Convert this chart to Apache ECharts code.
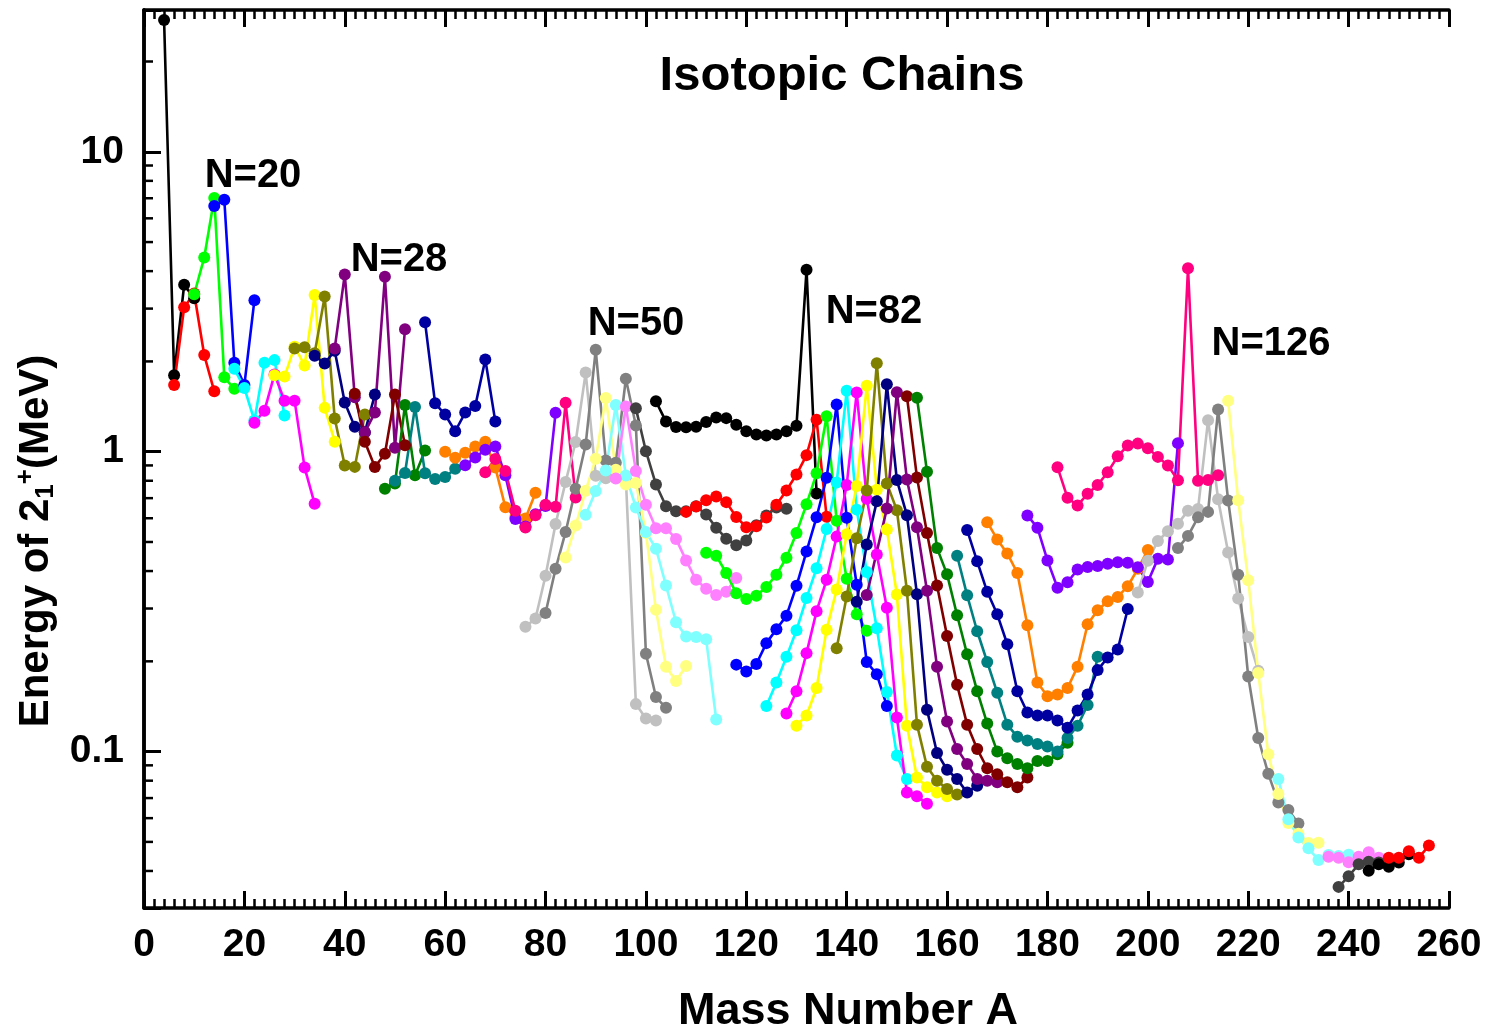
<!DOCTYPE html>
<html>
<head>
<meta charset="utf-8">
<script src="https://cdn.jsdelivr.net/npm/echarts@6/dist/echarts.min.js"></script>
<style>
html,body{margin:0;padding:0;background:#fff;}
#chart{width:1489px;height:1030px;}
</style>
</head>
<body>
<div id="chart"></div>
<script>
// ---------- data (mass number A, energy of first 2+ state in MeV) ----------
const A_He=[4,6,8,10];                 const E_He=[27.5,1.80,3.60,3.25];
const A_Be=[6,8,10,12,14];             const E_Be=[1.67,3.03,3.37,2.10,1.59];
const A_C=[10,12,14,16,18];            const E_C=[3.35,4.44,7.01,1.77,1.62];
const A_O=[14,16,18,20,22];            const E_O=[6.59,6.92,1.98,1.67,3.20];
const A_Ne=[18,20,22,24,26,28];        const E_Ne=[1.89,1.63,1.27,1.98,2.02,1.32];
const A_Mg=[22,24,26,28,30,32,34];     const E_Mg=[1.25,1.37,1.81,1.48,1.48,0.885,0.67];
const A_Si=[26,28,30,32,34,36,38];     const E_Si=[1.80,1.78,2.24,1.94,3.33,1.40,1.08];
const A_S=[30,32,34,36,38,40,42,44];   const E_S=[2.21,2.23,2.13,3.29,1.29,0.90,0.89,1.33];
const A_Ar=[34,36,38,40,42,44,46];     const E_Ar=[2.09,1.97,2.17,1.46,1.21,1.16,1.55];
const A_Ca=[38,40,42,44,46,48,50,52];  const E_Ca=[2.21,3.90,1.52,1.16,1.35,3.83,1.03,2.56];
const A_Ti=[42,44,46,48,50,52];        const E_Ti=[1.56,1.08,0.889,0.984,1.55,1.05];
const A_Cr=[48,50,52,54,56];           const E_Cr=[0.752,0.783,1.43,0.835,1.01];
const A_Fe=[50,52,54,56,58,60,62];     const E_Fe=[0.80,0.849,1.41,0.847,0.811,0.824,0.877];
const A_Ni=[56,58,60,62,64,66,68,70];  const E_Ni=[2.70,1.45,1.33,1.17,1.35,1.42,2.03,1.26];
const A_Zn=[60,62,64,66,68,70,72,74,76,78]; const E_Zn=[1.00,0.954,0.992,1.04,1.08,0.885,0.653,0.606,0.599,0.730];
const A_Ge=[64,66,68,70,72,74,76,78,80,82]; const E_Ge=[0.902,0.957,1.016,1.04,0.834,0.596,0.563,0.619,0.659,1.348];
const A_Se=[68,70,72,74,76,78,80,82,84,86]; const E_Se=[0.854,0.945,0.862,0.635,0.559,0.614,0.666,0.655,1.455,0.704];
const A_Sr=[76,78,80,82,84,86,88,90,92,94,96,98,100,102];
const E_Sr=[0.261,0.278,0.386,0.574,0.793,1.077,1.836,0.832,0.815,0.837,0.815,0.144,0.129,0.127];
const A_Zr=[80,82,84,86,88,90,92,94,96,98,100,102,104];
const E_Zr=[0.290,0.407,0.540,0.752,1.057,2.186,0.935,0.919,1.751,1.223,0.212,0.152,0.140];
const A_Mo=[84,86,88,90,92,94,96,98,100,102,104,106,108];
const E_Mo=[0.444,0.567,0.741,0.948,1.510,0.871,0.778,0.787,0.536,0.297,0.192,0.172,0.193];
const A_Ru=[88,90,92,94,96,98,100,102,104,106,108,110,112,114];
const E_Ru=[0.616,0.739,0.865,1.431,0.833,0.652,0.540,0.475,0.358,0.270,0.242,0.241,0.237,0.128];
const A_Pd=[94,96,98,100,102,104,106,108,110,112,114,116,118];
const E_Pd=[0.814,1.415,0.863,0.666,0.556,0.556,0.512,0.434,0.374,0.349,0.333,0.341,0.379];
const A_Cd=[98,100,102,104,106,108,110,112,114,116,118,120,122,124,126,128];
const E_Cd=[1.395,1.004,0.777,0.658,0.633,0.633,0.658,0.618,0.558,0.513,0.488,0.506,0.569,0.613,0.652,0.645];
const A_Sn=[102,104,106,108,110,112,114,116,118,120,122,124,126,128,130,132,134];
const E_Sn=[1.472,1.260,1.208,1.206,1.212,1.257,1.300,1.294,1.230,1.171,1.141,1.132,1.141,1.169,1.221,4.041,0.726];
const A_Te=[108,110,112,114,116,118,120,122,124,126,128,130,132,134,136];
const E_Te=[0.630,0.657,0.689,0.709,0.679,0.606,0.560,0.564,0.603,0.666,0.743,0.839,0.974,1.279,0.607];
const A_Xe=[112,114,116,118,120,122,124,126,128,130,132,134,136,138,140,142,144];
const E_Xe=[0.460,0.450,0.394,0.337,0.323,0.331,0.354,0.389,0.443,0.536,0.668,0.847,1.313,0.589,0.377,0.287,0.253];
const A_Ba=[118,120,122,124,126,128,130,132,134,136,138,140,142,144,146,148];
const E_Ba=[0.195,0.185,0.196,0.230,0.256,0.284,0.357,0.465,0.605,0.819,1.436,0.602,0.360,0.199,0.181,0.142];
const A_Ce=[124,126,128,130,132,134,136,138,140,142,144,146,148,150,152];
const E_Ce=[0.142,0.170,0.207,0.254,0.325,0.409,0.552,0.789,1.596,0.641,0.397,0.258,0.158,0.097,0.081];
const A_Nd=[128,130,132,134,136,138,140,142,144,146,148,150,152,154,156];
const E_Nd=[0.134,0.159,0.213,0.294,0.374,0.521,0.774,1.576,0.697,0.454,0.302,0.130,0.073,0.071,0.067];
const A_Sm=[130,132,134,136,138,140,142,144,146,148,150,152,154,156,158,160];
const E_Sm=[0.122,0.132,0.163,0.255,0.347,0.531,0.768,1.660,0.747,0.550,0.334,0.122,0.082,0.076,0.073,0.071];
const A_Gd=[138,140,142,144,146,148,150,152,154,156,158,160,162];
const E_Gd=[0.221,0.329,0.515,0.743,1.972,0.784,0.638,0.344,0.123,0.089,0.080,0.075,0.072];
const A_Dy=[142,144,146,148,150,152,154,156,158,160,162,164,166];
const E_Dy=[0.316,0.490,0.683,1.678,0.804,0.614,0.335,0.138,0.099,0.087,0.081,0.073,0.077];
const A_Er=[144,148,150,152,154,156,158,160,162,164,166,168,170];
const E_Er=[0.333,0.646,1.579,0.808,0.560,0.344,0.192,0.126,0.102,0.091,0.081,0.080,0.079];
const A_Yb=[152,154,156,158,160,162,164,166,168,170,172,174,176];
const E_Yb=[1.531,0.821,0.536,0.358,0.243,0.167,0.123,0.102,0.088,0.084,0.079,0.076,0.082];
const A_Hf=[154,156,158,160,162,164,166,168,170,172,174,176,178,180,182,184];
const E_Hf=[1.513,0.858,0.477,0.390,0.285,0.211,0.159,0.124,0.100,0.095,0.091,0.088,0.093,0.093,0.098,0.107];
const A_W=[162,164,166,168,170,172,174,176,178,180,182,184,186,188,190];
const E_W=[0.450,0.332,0.252,0.199,0.157,0.123,0.112,0.109,0.106,0.104,0.100,0.111,0.122,0.143,0.207];
const A_Os=[164,166,168,170,172,174,176,178,180,182,184,186,188,190,192,194,196];
const E_Os=[0.548,0.431,0.341,0.287,0.228,0.159,0.135,0.132,0.132,0.127,0.120,0.137,0.155,0.187,0.206,0.219,0.299];
const A_Pt=[168,170,172,174,176,178,180,182,184,186,188,190,192,194,196,198,200];
const E_Pt=[0.582,0.510,0.458,0.394,0.264,0.170,0.153,0.155,0.163,0.192,0.266,0.296,0.317,0.328,0.356,0.407,0.470];
const A_Hg=[176,178,180,182,184,186,188,190,192,194,196,198,200,202,204,206];
const E_Hg=[0.613,0.558,0.434,0.352,0.367,0.405,0.413,0.416,0.423,0.428,0.426,0.412,0.368,0.440,0.437,1.068];
const A_Pb=[182,184,186,188,190,192,194,196,198,200,202,204,206,208,210,212,214];
const E_Pb=[0.888,0.702,0.662,0.724,0.774,0.854,0.965,1.049,1.064,1.027,0.961,0.899,0.803,4.086,0.800,0.805,0.835];
const A_Rn=[198,200,202,204,206,208,210,212,214,216,218,220,222];
const E_Rn=[0.339,0.433,0.504,0.543,0.575,0.636,0.644,1.274,0.694,0.461,0.324,0.241,0.186];
const A_Ra=[206,208,210,212,214,216,218,220,222,224,226,228,230];
const E_Ra=[0.477,0.524,0.604,0.630,1.382,0.688,0.389,0.178,0.111,0.0843,0.0676,0.0639,0.0576];
const A_Th=[216,218,220,222,224,226,228,230,232,234];
const E_Th=[1.478,0.689,0.373,0.183,0.098,0.0722,0.0578,0.0532,0.0496,0.0497];
const A_U=[226,228,230,232,234,236,238,240];
const E_U=[0.081,0.0595,0.0517,0.0476,0.0435,0.0452,0.0449,0.0453];
const A_Pu=[236,238,240,242,244,246];
const E_Pu=[0.0446,0.0443,0.0428,0.0446,0.0462,0.0443];
const A_Cm=[238,240,242,244,246,248];
const E_Cm=[0.0354,0.0384,0.0421,0.0429,0.0427,0.0434];
const A_Cf=[244,246,248,250,252];
const E_Cf=[0.0401,0.0421,0.0413,0.0427,0.0455];
const A_Fm=[248,250,252,254,256];
const E_Fm=[0.0443,0.0443,0.0465,0.0443,0.0486];

const yMajorLabels=['0.1','1','10'];
const yMinorTicks=[0.04,0.05,0.06,0.07,0.08,0.09,0.2,0.3,0.4,0.5,0.6,0.7,0.8,0.9,2,3,4,5,6,7,8,9,20];
const shellLabels=['N=20','N=28','N=50','N=82','N=126'];

// ---------- chains in drawing order ----------
const chains=[
 ['He','#000000',A_He,E_He],['Be','#FF0000',A_Be,E_Be],['C','#00FF00',A_C,E_C],
 ['O','#0000FF',A_O,E_O],['Ne','#00FFFF',A_Ne,E_Ne],['Mg','#FF00FF',A_Mg,E_Mg],
 ['Si','#FFFF00',A_Si,E_Si],['S','#808000',A_S,E_S],['Ar','#000080',A_Ar,E_Ar],
 ['Ca','#800080',A_Ca,E_Ca],['Ti','#800000',A_Ti,E_Ti],['Cr','#008000',A_Cr,E_Cr],
 ['Fe','#008080',A_Fe,E_Fe],['Ni','#0000A0',A_Ni,E_Ni],['Zn','#FF8000',A_Zn,E_Zn],
 ['Ge','#8000FF',A_Ge,E_Ge],['Se','#FF0080',A_Se,E_Se],
 ['Sr','#C0C0C0',A_Sr,E_Sr],['Zr','#808080',A_Zr,E_Zr],['Mo','#FFFF80',A_Mo,E_Mo],
 ['Ru','#80FFFF',A_Ru,E_Ru],['Pd','#FF80FF',A_Pd,E_Pd],['Cd','#404040',A_Cd,E_Cd],
 ['Sn','#000000',A_Sn,E_Sn],['Te','#FF0000',A_Te,E_Te],['Xe','#00FF00',A_Xe,E_Xe],
 ['Ba','#0000FF',A_Ba,E_Ba],['Ce','#00FFFF',A_Ce,E_Ce],['Nd','#FF00FF',A_Nd,E_Nd],
 ['Sm','#FFFF00',A_Sm,E_Sm],['Gd','#808000',A_Gd,E_Gd],['Dy','#000080',A_Dy,E_Dy],
 ['Er','#800080',A_Er,E_Er],['Yb','#800000',A_Yb,E_Yb],['Hf','#008000',A_Hf,E_Hf],
 ['W','#008080',A_W,E_W],['Os','#0000A0',A_Os,E_Os],['Pt','#FF8000',A_Pt,E_Pt],
 ['Hg','#8000FF',A_Hg,E_Hg],['Pb','#FF0080',A_Pb,E_Pb],
 ['Rn','#C0C0C0',A_Rn,E_Rn],['Ra','#808080',A_Ra,E_Ra],['Th','#FFFF80',A_Th,E_Th],
 ['U','#80FFFF',A_U,E_U],['Pu','#FF80FF',A_Pu,E_Pu],['Cm','#404040',A_Cm,E_Cm],
 ['Cf','#000000',A_Cf,E_Cf],['Fm','#FF0000',A_Fm,E_Fm]
];

const FONT='"Liberation Sans", Arial, Helvetica, sans-serif';
const series=chains.map(([name,color,A,E])=>({
  name, type:'line', xAxisIndex:0, yAxisIndex:0,
  data:A.map((a,i)=>[a,E[i]]),
  symbol:'circle', symbolSize:12, showSymbol:true,
  lineStyle:{color, width:2.6}, itemStyle:{color},
  emphasis:{disabled:true}, silent:true, animation:false, clip:false
}));

// minor log ticks on the left axis, placed through the axis scale
series.push({
  type:'custom', xAxisIndex:0, yAxisIndex:0, silent:true, animation:false, clip:false, z:10,
  data:yMinorTicks.map(v=>[0,v]),
  renderItem:(params,api)=>{
    const p=api.coord([0,api.value(1)]);
    return {type:'line', shape:{x1:p[0],y1:p[1],x2:p[0]+9,y2:p[1]}, style:{stroke:'#000',lineWidth:2.5}};
  }
});

const chart=echarts.init(document.getElementById('chart'),null,{renderer:'canvas'});
const axisLineStyle={show:true,lineStyle:{color:'#000',width:3.5}};
const xCommon={
  type:'value', min:0, max:260, interval:20, gridIndex:0,
  axisLine:axisLineStyle,
  axisTick:{show:true,inside:true,length:17,lineStyle:{color:'#000',width:3}},
  minorTick:{show:true,splitNumber:10,length:9,lineStyle:{color:'#000',width:2.5}},
  splitLine:{show:false}, minorSplitLine:{show:false}
};
const yFmt=(v)=>{
  const l=Math.log10(v);
  if(Math.abs(l-Math.round(l))<1e-6){
    const k=Math.round(l);
    if(k===-1) return yMajorLabels[0];
    if(k===0) return yMajorLabels[1];
    if(k===1) return yMajorLabels[2];
  }
  return '';
};
chart.setOption({
  animation:false,
  backgroundColor:'#fff',
  grid:{left:144,right:40,top:10,bottom:122,containLabel:false},
  xAxis:[
    Object.assign({},xCommon,{position:'bottom',
      axisLabel:{show:true,fontSize:39,fontWeight:'bold',color:'#000',fontFamily:FONT,margin:18}}),
    Object.assign({},xCommon,{position:'top',axisLabel:{show:false}})
  ],
  yAxis:[
    {type:'log',logBase:10,min:0.0301,max:29.7,position:'left',
     axisLine:axisLineStyle,
     axisTick:{show:true,inside:true,length:17,lineStyle:{color:'#000',width:3}},
     minorTick:{show:false},
     axisLabel:{show:true,fontSize:39,fontWeight:'bold',color:'#000',fontFamily:FONT,margin:20,formatter:yFmt},
     splitLine:{show:false}},
    {type:'log',logBase:10,min:0.0301,max:29.7,position:'right',
     axisLine:axisLineStyle,axisTick:{show:false},axisLabel:{show:false},splitLine:{show:false},minorTick:{show:false}}
  ],
  graphic:[
    {type:'text',x:842,y:76,silent:true,style:{text:'Isotopic Chains',fill:'#000',font:'bold 49px '+FONT,align:'center',verticalAlign:'middle'}},
    {type:'text',x:253,y:176,silent:true,style:{text:shellLabels[0],fill:'#000',font:'bold 40px '+FONT,align:'center',verticalAlign:'middle'}},
    {type:'text',x:399,y:260,silent:true,style:{text:shellLabels[1],fill:'#000',font:'bold 40px '+FONT,align:'center',verticalAlign:'middle'}},
    {type:'text',x:636,y:324,silent:true,style:{text:shellLabels[2],fill:'#000',font:'bold 40px '+FONT,align:'center',verticalAlign:'middle'}},
    {type:'text',x:874,y:312,silent:true,style:{text:shellLabels[3],fill:'#000',font:'bold 40px '+FONT,align:'center',verticalAlign:'middle'}},
    {type:'text',x:1271,y:344,silent:true,style:{text:shellLabels[4],fill:'#000',font:'bold 40px '+FONT,align:'center',verticalAlign:'middle'}},
    {type:'text',x:848,y:1012,silent:true,style:{text:'Mass Number A',fill:'#000',font:'bold 45px '+FONT,align:'center',verticalAlign:'middle'}},
    {type:'text',x:36,y:541,rotation:Math.PI/2,silent:true,style:{
      text:'{a|Energy of 2}{b|1}{c|+}{a|(MeV)}',
      align:'center',verticalAlign:'middle',
      rich:{
        a:{fontSize:42,fontWeight:'bold',fontFamily:FONT,fill:'#000',color:'#000',lineHeight:46},
        b:{fontSize:26,fontWeight:'bold',fontFamily:FONT,fill:'#000',color:'#000',verticalAlign:'bottom',lineHeight:26},
        c:{fontSize:26,fontWeight:'bold',fontFamily:FONT,fill:'#000',color:'#000',verticalAlign:'top',lineHeight:26}
      }}}
  ],
  series
});
</script>
</body>
</html>
